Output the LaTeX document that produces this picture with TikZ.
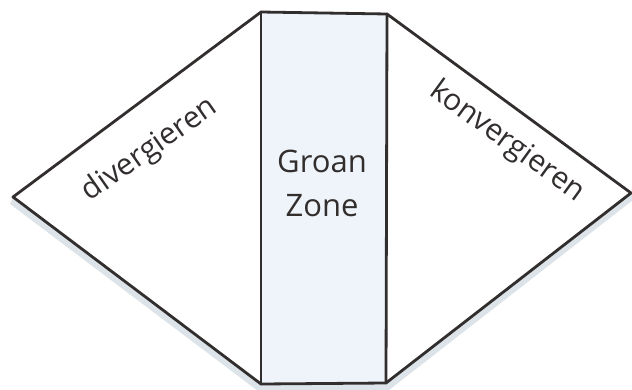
\documentclass[tikz,border=0pt]{standalone}
\usepackage{fontspec}
\setmainfont{Open Sans}
\definecolor{ink}{HTML}{332E2E}
\definecolor{zonefill}{HTML}{EEF4F9}
\definecolor{shadowc}{HTML}{DCE4EA}
\begin{document}
\begin{tikzpicture}[x=1pt,y=-1pt,
  outline/.style={draw=ink,line width=2.8pt,line join=round,line cap=round},
  label/.style={text=ink,font=\fontsize{30}{34}\selectfont},
  zonetext/.style={text=ink,font=\fontsize{31}{44}\selectfont,align=center}]
\useasboundingbox (0,0) rectangle (632,389);
\coordinate (L) at (13,197);
\coordinate (TL) at (261,12);
\coordinate (TR) at (387,14);
\coordinate (R) at (631,193);
\coordinate (BR) at (386,383);
\coordinate (BL) at (261,384);
% shadow
\fill[shadowc] ([shift={(-3,7)}]L) -- ([shift={(-3,7)}]BL) -- ([shift={(3,7)}]BR) -- ([shift={(2,7)}]R) -- (R) -- (BR) -- (BL) -- (L) -- cycle;
\fill[white] (L) -- (TL) -- (TR) -- (R) -- (BR) -- (BL) -- cycle;
\fill[zonefill] (TL) -- (TR) -- (BR) -- (BL) -- cycle;
\draw[outline] (L) -- (TL) -- (TR) -- (R) -- (BR) -- (BL) -- cycle;
\draw[outline] (TL) -- (BL);
\draw[outline] (TR) -- (BR);
\node[label,rotate=35] (div) at (150,150) {divergieren};
\node[label,rotate=-36] (kon) at (507,142) {konvergieren};
\node[zonetext] (zone) at (322,183) {Groan\\Zone};
\end{tikzpicture}
\end{document}
